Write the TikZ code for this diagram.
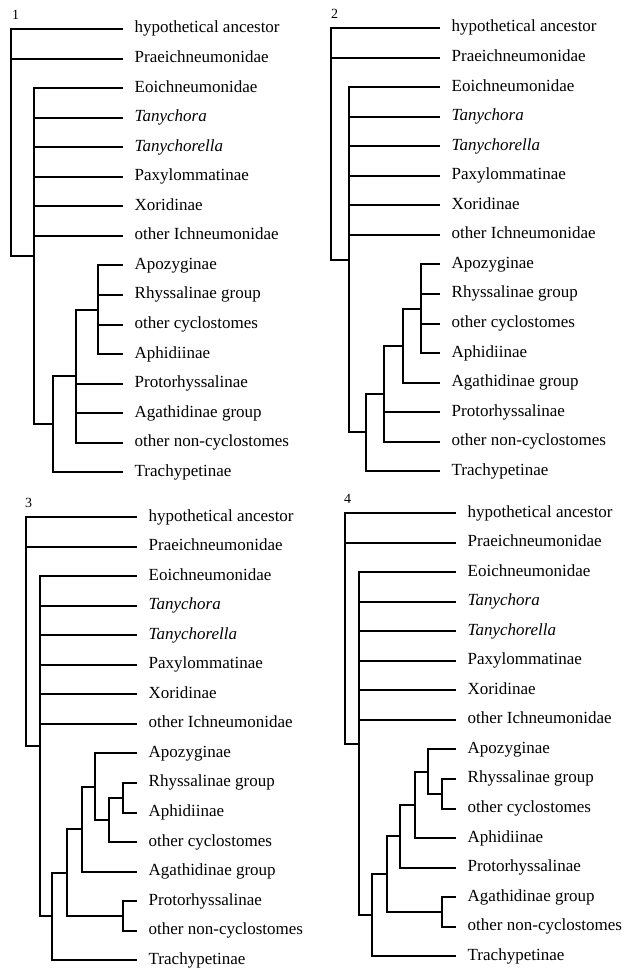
\documentclass[tikz,border=0pt]{standalone}
\usepackage{fontspec}
\setmainfont{Liberation Serif}

\begin{document}
\begin{tikzpicture}[font=\fontsize{17}{20}\selectfont,
  leaf/.style={anchor=west,inner xsep=11.5pt,inner ysep=0pt,text height=11pt,text depth=3pt},
  num/.style={anchor=base west,inner sep=0pt,font=\fontsize{14}{14}\selectfont},
  branch/.style={line width=2pt},
  panel/.style={x=1pt,y={(0,-29.55pt)}}]
\useasboundingbox (0,0) rectangle (624pt,-971pt);

% tree 1
\begin{scope}[panel,shift={(11pt,-29pt)}]
\node[num] (t1) at (1,-0.32) {1};
\foreach \t [count=\i from 0] in {hypothetical ancestor,Praeichneumonidae,Eoichneumonidae,\textit{Tanychora},\textit{Tanychorella},Paxylommatinae,Xoridinae,other Ichneumonidae}
  \node[leaf] (A\i) at (112,\i) {\t};
\foreach \t [count=\i from 8] in {Apozyginae,Rhyssalinae group,other cyclostomes,Aphidiinae,Protorhyssalinae,Agathidinae group,other non-cyclostomes,Trachypetinae}
  \node[leaf] (A\i) at (112,\i) {\t};
\coordinate (Ae) at (87,9.5);
\coordinate (Ad) at (65,11.75);
\coordinate (Ac) at (42,13.375);
\coordinate (Ab) at (23,7.6875);
\coordinate (Ar) at (0,3.84);
\foreach \c in {A8,A9,A10,A11} \draw[branch] (Ae) |- (\c);
\foreach \c in {Ae,A12,A13,A14} \draw[branch] (Ad) |- (\c);
\foreach \c in {Ad,A15} \draw[branch] (Ac) |- (\c);
\foreach \c in {A2,A3,A4,A5,A6,A7,Ac} \draw[branch] (Ab) |- (\c);
\foreach \c in {A0,A1,Ab} \draw[branch] (Ar) |- (\c);
\end{scope}

% tree 2
\begin{scope}[panel,shift={(331pt,-28pt)}]
\node[num] (t2) at (0,-0.32) {2};
\foreach \t [count=\i from 0] in {hypothetical ancestor,Praeichneumonidae,Eoichneumonidae,\textit{Tanychora},\textit{Tanychorella},Paxylommatinae,Xoridinae,other Ichneumonidae}
  \node[leaf] (B\i) at (109,\i) {\t};
\foreach \t [count=\i from 8] in {Apozyginae,Rhyssalinae group,other cyclostomes,Aphidiinae,Agathidinae group,Protorhyssalinae,other non-cyclostomes,Trachypetinae}
  \node[leaf] (B\i) at (109,\i) {\t};
\coordinate (Bf) at (90,9.5);
\coordinate (Be) at (72,10.75);
\coordinate (Bd) at (53,12.375);
\coordinate (Bc) at (35,13.6875);
\coordinate (Bb) at (18,7.84375);
\coordinate (Br) at (0,3.92);
\foreach \c in {B8,B9,B10,B11} \draw[branch] (Bf) |- (\c);
\foreach \c in {Bf,B12} \draw[branch] (Be) |- (\c);
\foreach \c in {Be,B13,B14} \draw[branch] (Bd) |- (\c);
\foreach \c in {Bd,B15} \draw[branch] (Bc) |- (\c);
\foreach \c in {B2,B3,B4,B5,B6,B7,Bc} \draw[branch] (Bb) |- (\c);
\foreach \c in {B0,B1,Bb} \draw[branch] (Br) |- (\c);
\end{scope}

% tree 3
\begin{scope}[panel,shift={(26pt,-517pt)}]
\node[num] (t3) at (-1,-0.32) {3};
\foreach \t [count=\i from 0] in {hypothetical ancestor,Praeichneumonidae,Eoichneumonidae,\textit{Tanychora},\textit{Tanychorella},Paxylommatinae,Xoridinae,other Ichneumonidae}
  \node[leaf] (C\i) at (111,\i) {\t};
\foreach \t [count=\i from 8] in {Apozyginae,Rhyssalinae group,Aphidiinae,other cyclostomes,Agathidinae group,Protorhyssalinae,other non-cyclostomes,Trachypetinae}
  \node[leaf] (C\i) at (111,\i) {\t};
\coordinate (Ci) at (97,9.5);
\coordinate (Ch) at (97,13.5);
\coordinate (Cg) at (83,10.25);
\coordinate (Cf) at (69,9.125);
\coordinate (Ce) at (56,10.5625);
\coordinate (Cd) at (41,12.03125);
\coordinate (Cc) at (26,13.515625);
\coordinate (Cb) at (14,7.7578);
\coordinate (Cr) at (0,3.88);
\foreach \c in {C9,C10} \draw[branch] (Ci) |- (\c);
\foreach \c in {C13,C14} \draw[branch] (Ch) |- (\c);
\foreach \c in {Ci,C11} \draw[branch] (Cg) |- (\c);
\foreach \c in {C8,Cg} \draw[branch] (Cf) |- (\c);
\foreach \c in {Cf,C12} \draw[branch] (Ce) |- (\c);
\foreach \c in {Ce,Ch} \draw[branch] (Cd) |- (\c);
\foreach \c in {Cd,C15} \draw[branch] (Cc) |- (\c);
\foreach \c in {C2,C3,C4,C5,C6,C7,Cc} \draw[branch] (Cb) |- (\c);
\foreach \c in {C0,C1,Cb} \draw[branch] (Cr) |- (\c);
\end{scope}

% tree 4
\begin{scope}[panel,shift={(345pt,-513pt)}]
\node[num] (t4) at (-1,-0.32) {4};
\foreach \t [count=\i from 0] in {hypothetical ancestor,Praeichneumonidae,Eoichneumonidae,\textit{Tanychora},\textit{Tanychorella},Paxylommatinae,Xoridinae,other Ichneumonidae}
  \node[leaf] (D\i) at (111,\i) {\t};
\foreach \t [count=\i from 8] in {Apozyginae,Rhyssalinae group,other cyclostomes,Aphidiinae,Protorhyssalinae,Agathidinae group,other non-cyclostomes,Trachypetinae}
  \node[leaf] (D\i) at (111,\i) {\t};
\coordinate (Di) at (97,9.5);
\coordinate (Dh) at (97,13.5);
\coordinate (Dg) at (83,8.75);
\coordinate (Df) at (70,9.875);
\coordinate (De) at (55,10.9375);
\coordinate (Dd) at (42,12.21875);
\coordinate (Dc) at (27,13.609375);
\coordinate (Db) at (14,7.8047);
\coordinate (Dr) at (0,3.9);
\foreach \c in {D9,D10} \draw[branch] (Di) |- (\c);
\foreach \c in {D13,D14} \draw[branch] (Dh) |- (\c);
\foreach \c in {D8,Di} \draw[branch] (Dg) |- (\c);
\foreach \c in {Dg,D11} \draw[branch] (Df) |- (\c);
\foreach \c in {Df,D12} \draw[branch] (De) |- (\c);
\foreach \c in {De,Dh} \draw[branch] (Dd) |- (\c);
\foreach \c in {Dd,D15} \draw[branch] (Dc) |- (\c);
\foreach \c in {D2,D3,D4,D5,D6,D7,Dc} \draw[branch] (Db) |- (\c);
\foreach \c in {D0,D1,Db} \draw[branch] (Dr) |- (\c);
\end{scope}
\end{tikzpicture}
\end{document}
